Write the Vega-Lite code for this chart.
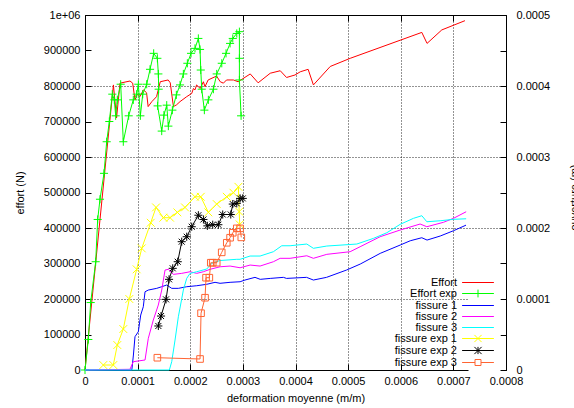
{
  "$schema": "https://vega.github.io/schema/vega-lite/v6.json",
  "width": 421,
  "height": 355,
  "autosize": {"type": "none"},
  "padding": {"left": 85, "top": 15, "right": 68, "bottom": 38},
  "background": "white",
  "config": {
    "font": "Liberation Sans",
    "view": {"stroke": "black", "strokeWidth": 1},
    "axis": {
      "labelFont": "Liberation Sans",
      "labelFontSize": 11,
      "labelColor": "black",
      "labelFlush": false,
      "labelOverlap": false,
      "titleFont": "Liberation Sans",
      "titleFontSize": 11,
      "titleFontWeight": "normal",
      "titleColor": "black",
      "tickColor": "black",
      "domain": false
    },
    "line": {"strokeWidth": 1}
  },
  "datasets": {
    "eff": [
      {"series": "Effort", "s": 0, "e": 0},
      {"series": "Effort", "s": 0.0000540, "e": 803000},
      {"series": "Effort", "s": 0.0000600, "e": 710000},
      {"series": "Effort", "s": 0.0000665, "e": 808000},
      {"series": "Effort", "s": 0.0000855, "e": 814000},
      {"series": "Effort", "s": 0.0000906, "e": 808000},
      {"series": "Effort", "s": 0.0000950, "e": 761000},
      {"series": "Effort", "s": 0.0000995, "e": 777000},
      {"series": "Effort", "s": 0.0001045, "e": 770000},
      {"series": "Effort", "s": 0.0001110, "e": 789000},
      {"series": "Effort", "s": 0.0001170, "e": 781000},
      {"series": "Effort", "s": 0.0001200, "e": 742000},
      {"series": "Effort", "s": 0.0001270, "e": 756000},
      {"series": "Effort", "s": 0.0001360, "e": 770000},
      {"series": "Effort", "s": 0.0001430, "e": 812000},
      {"series": "Effort", "s": 0.0001580, "e": 817000},
      {"series": "Effort", "s": 0.0001620, "e": 809000},
      {"series": "Effort", "s": 0.0001680, "e": 742000},
      {"series": "Effort", "s": 0.0001740, "e": 747000},
      {"series": "Effort", "s": 0.0001806, "e": 756000},
      {"series": "Effort", "s": 0.0001933, "e": 770000},
      {"series": "Effort", "s": 0.0002028, "e": 779000},
      {"series": "Effort", "s": 0.0002060, "e": 793000},
      {"series": "Effort", "s": 0.0002090, "e": 789000},
      {"series": "Effort", "s": 0.0002120, "e": 803000},
      {"series": "Effort", "s": 0.0002190, "e": 793000},
      {"series": "Effort", "s": 0.0002250, "e": 812000},
      {"series": "Effort", "s": 0.0002280, "e": 798000},
      {"series": "Effort", "s": 0.0002340, "e": 817000},
      {"series": "Effort", "s": 0.0002500, "e": 828000},
      {"series": "Effort", "s": 0.0002570, "e": 812000},
      {"series": "Effort", "s": 0.0002630, "e": 808000},
      {"series": "Effort", "s": 0.0002690, "e": 817000},
      {"series": "Effort", "s": 0.0002820, "e": 817000},
      {"series": "Effort", "s": 0.0002910, "e": 812000},
      {"series": "Effort", "s": 0.0003140, "e": 834000},
      {"series": "Effort", "s": 0.0003290, "e": 809000},
      {"series": "Effort", "s": 0.0003520, "e": 836000},
      {"series": "Effort", "s": 0.0003710, "e": 843000},
      {"series": "Effort", "s": 0.0003830, "e": 824000},
      {"series": "Effort", "s": 0.0003990, "e": 831000},
      {"series": "Effort", "s": 0.0004090, "e": 840000},
      {"series": "Effort", "s": 0.0004240, "e": 847000},
      {"series": "Effort", "s": 0.0004340, "e": 803000},
      {"series": "Effort", "s": 0.0004660, "e": 855000},
      {"series": "Effort", "s": 0.0005040, "e": 878000},
      {"series": "Effort", "s": 0.0006400, "e": 951000},
      {"series": "Effort", "s": 0.0006500, "e": 920000},
      {"series": "Effort", "s": 0.0006780, "e": 958000},
      {"series": "Effort", "s": 0.0007220, "e": 984000},
      {"series": "Effort exp", "s": 0, "e": 0},
      {"series": "Effort exp", "s": 0.0000063, "e": 86000},
      {"series": "Effort exp", "s": 0.0000108, "e": 190000},
      {"series": "Effort exp", "s": 0.0000203, "e": 305000},
      {"series": "Effort exp", "s": 0.0000241, "e": 424000},
      {"series": "Effort exp", "s": 0.0000285, "e": 481000},
      {"series": "Effort exp", "s": 0.0000361, "e": 554000},
      {"series": "Effort exp", "s": 0.0000412, "e": 643000},
      {"series": "Effort exp", "s": 0.0000462, "e": 700000},
      {"series": "Effort exp", "s": 0.0000519, "e": 777000},
      {"series": "Effort exp", "s": 0.0000557, "e": 761000},
      {"series": "Effort exp", "s": 0.0000583, "e": 716000},
      {"series": "Effort exp", "s": 0.0000614, "e": 761000},
      {"series": "Effort exp", "s": 0.0000678, "e": 805000},
      {"series": "Effort exp", "s": 0.0000728, "e": 643000},
      {"series": "Effort exp", "s": 0.0000830, "e": 716000},
      {"series": "Effort exp", "s": 0.0000918, "e": 761000},
      {"series": "Effort exp", "s": 0.0000982, "e": 777000},
      {"series": "Effort exp", "s": 0.0001014, "e": 805000},
      {"series": "Effort exp", "s": 0.0001052, "e": 716000},
      {"series": "Effort exp", "s": 0.0001097, "e": 777000},
      {"series": "Effort exp", "s": 0.0001173, "e": 805000},
      {"series": "Effort exp", "s": 0.0001236, "e": 847000},
      {"series": "Effort exp", "s": 0.0001305, "e": 892000},
      {"series": "Effort exp", "s": 0.0001375, "e": 878000},
      {"series": "Effort exp", "s": 0.0001394, "e": 834000},
      {"series": "Effort exp", "s": 0.0001400, "e": 791000},
      {"series": "Effort exp", "s": 0.0001380, "e": 744000},
      {"series": "Effort exp", "s": 0.0001458, "e": 673000},
      {"series": "Effort exp", "s": 0.0001500, "e": 718000},
      {"series": "Effort exp", "s": 0.0001553, "e": 746000},
      {"series": "Effort exp", "s": 0.0001584, "e": 687000},
      {"series": "Effort exp", "s": 0.0001660, "e": 732000},
      {"series": "Effort exp", "s": 0.0001736, "e": 775000},
      {"series": "Effort exp", "s": 0.0001806, "e": 803000},
      {"series": "Effort exp", "s": 0.0001869, "e": 834000},
      {"series": "Effort exp", "s": 0.0001945, "e": 864000},
      {"series": "Effort exp", "s": 0.0002015, "e": 892000},
      {"series": "Effort exp", "s": 0.0002090, "e": 906000},
      {"series": "Effort exp", "s": 0.0002154, "e": 934000},
      {"series": "Effort exp", "s": 0.0002186, "e": 903000},
      {"series": "Effort exp", "s": 0.0002200, "e": 845000},
      {"series": "Effort exp", "s": 0.0002218, "e": 791000},
      {"series": "Effort exp", "s": 0.0002268, "e": 732000},
      {"series": "Effort exp", "s": 0.0002344, "e": 761000},
      {"series": "Effort exp", "s": 0.0002440, "e": 791000},
      {"series": "Effort exp", "s": 0.0002503, "e": 834000},
      {"series": "Effort exp", "s": 0.0002599, "e": 864000},
      {"series": "Effort exp", "s": 0.0002680, "e": 892000},
      {"series": "Effort exp", "s": 0.0002757, "e": 920000},
      {"series": "Effort exp", "s": 0.0002808, "e": 934000},
      {"series": "Effort exp", "s": 0.0002884, "e": 948000},
      {"series": "Effort exp", "s": 0.0002934, "e": 953000},
      {"series": "Effort exp", "s": 0.0002934, "e": 878000},
      {"series": "Effort exp", "s": 0.0002934, "e": 817000},
      {"series": "Effort exp", "s": 0.0002966, "e": 716000}
    ],
    "fis": [
      {"series": "fissure 1", "s": 0, "o": 0},
      {"series": "fissure 1", "s": 0.0000890, "o": 0},
      {"series": "fissure 1", "s": 0.0000920, "o": 0.0000211},
      {"series": "fissure 1", "s": 0.0000950, "o": 0.0000469},
      {"series": "fissure 1", "s": 0.0001013, "o": 0.0000539},
      {"series": "fissure 1", "s": 0.0001059, "o": 0.0000774},
      {"series": "fissure 1", "s": 0.0001108, "o": 0.0000891},
      {"series": "fissure 1", "s": 0.0001141, "o": 0.0001102},
      {"series": "fissure 1", "s": 0.0001203, "o": 0.0001126},
      {"series": "fissure 1", "s": 0.0001363, "o": 0.0001150},
      {"series": "fissure 1", "s": 0.0001458, "o": 0.0001173},
      {"series": "fissure 1", "s": 0.0001553, "o": 0.0001197},
      {"series": "fissure 1", "s": 0.0001648, "o": 0.0001150},
      {"series": "fissure 1", "s": 0.0001774, "o": 0.0001150},
      {"series": "fissure 1", "s": 0.0001933, "o": 0.0001173},
      {"series": "fissure 1", "s": 0.0002123, "o": 0.0001187},
      {"series": "fissure 1", "s": 0.0002313, "o": 0.0001207},
      {"series": "fissure 1", "s": 0.0002471, "o": 0.0001235},
      {"series": "fissure 1", "s": 0.0002566, "o": 0.0001221},
      {"series": "fissure 1", "s": 0.0002757, "o": 0.0001235},
      {"series": "fissure 1", "s": 0.0002947, "o": 0.0001243},
      {"series": "fissure 1", "s": 0.0003040, "o": 0.0001267},
      {"series": "fissure 1", "s": 0.0003230, "o": 0.0001305},
      {"series": "fissure 1", "s": 0.0003330, "o": 0.0001277},
      {"series": "fissure 1", "s": 0.0003520, "o": 0.0001290},
      {"series": "fissure 1", "s": 0.0003770, "o": 0.0001305},
      {"series": "fissure 1", "s": 0.0003830, "o": 0.0001290},
      {"series": "fissure 1", "s": 0.0004210, "o": 0.0001305},
      {"series": "fissure 1", "s": 0.0004340, "o": 0.0001267},
      {"series": "fissure 1", "s": 0.0004590, "o": 0.0001305},
      {"series": "fissure 1", "s": 0.0004970, "o": 0.0001408},
      {"series": "fissure 1", "s": 0.0005230, "o": 0.0001492},
      {"series": "fissure 1", "s": 0.0005610, "o": 0.0001643},
      {"series": "fissure 1", "s": 0.0005990, "o": 0.0001760},
      {"series": "fissure 1", "s": 0.0006180, "o": 0.0001820},
      {"series": "fissure 1", "s": 0.0006400, "o": 0.0001863},
      {"series": "fissure 1", "s": 0.0006500, "o": 0.0001830},
      {"series": "fissure 1", "s": 0.0006750, "o": 0.0001887},
      {"series": "fissure 1", "s": 0.0007000, "o": 0.0001961},
      {"series": "fissure 1", "s": 0.0007240, "o": 0.0002040},
      {"series": "fissure 2", "s": 0, "o": 0},
      {"series": "fissure 2", "s": 0.0000855, "o": 0.0000010},
      {"series": "fissure 2", "s": 0.0000918, "o": 0.0000117},
      {"series": "fissure 2", "s": 0.0001141, "o": 0.0000141},
      {"series": "fissure 2", "s": 0.0001203, "o": 0.0000446},
      {"series": "fissure 2", "s": 0.0001298, "o": 0.0000704},
      {"series": "fissure 2", "s": 0.0001393, "o": 0.0000915},
      {"series": "fissure 2", "s": 0.0001458, "o": 0.0001126},
      {"series": "fissure 2", "s": 0.0001521, "o": 0.0001408},
      {"series": "fissure 2", "s": 0.0001584, "o": 0.0001418},
      {"series": "fissure 2", "s": 0.0001679, "o": 0.0001347},
      {"series": "fissure 2", "s": 0.0001838, "o": 0.0001361},
      {"series": "fissure 2", "s": 0.0001996, "o": 0.0001384},
      {"series": "fissure 2", "s": 0.0002123, "o": 0.0001361},
      {"series": "fissure 2", "s": 0.0002249, "o": 0.0001384},
      {"series": "fissure 2", "s": 0.0002376, "o": 0.0001418},
      {"series": "fissure 2", "s": 0.0002566, "o": 0.0001454},
      {"series": "fissure 2", "s": 0.0002757, "o": 0.0001464},
      {"series": "fissure 2", "s": 0.0002947, "o": 0.0001440},
      {"series": "fissure 2", "s": 0.0003137, "o": 0.0001478},
      {"series": "fissure 2", "s": 0.0003327, "o": 0.0001464},
      {"series": "fissure 2", "s": 0.0003580, "o": 0.0001525},
      {"series": "fissure 2", "s": 0.0003707, "o": 0.0001573},
      {"series": "fissure 2", "s": 0.0003897, "o": 0.0001573},
      {"series": "fissure 2", "s": 0.0004215, "o": 0.0001609},
      {"series": "fissure 2", "s": 0.0004340, "o": 0.0001573},
      {"series": "fissure 2", "s": 0.0004595, "o": 0.0001629},
      {"series": "fissure 2", "s": 0.0005038, "o": 0.0001666},
      {"series": "fissure 2", "s": 0.0005228, "o": 0.0001736},
      {"series": "fissure 2", "s": 0.0005608, "o": 0.0001877},
      {"series": "fissure 2", "s": 0.0005988, "o": 0.0001971},
      {"series": "fissure 2", "s": 0.0006368, "o": 0.0002056},
      {"series": "fissure 2", "s": 0.0006496, "o": 0.0002018},
      {"series": "fissure 2", "s": 0.0006811, "o": 0.0002080},
      {"series": "fissure 2", "s": 0.0007001, "o": 0.0002136},
      {"series": "fissure 2", "s": 0.0007243, "o": 0.0002229},
      {"series": "fissure 3", "s": 0, "o": 0},
      {"series": "fissure 3", "s": 0.0001603, "o": 0},
      {"series": "fissure 3", "s": 0.0001648, "o": 0.0000117},
      {"series": "fissure 3", "s": 0.0001711, "o": 0.0000422},
      {"series": "fissure 3", "s": 0.0001774, "o": 0.0000750},
      {"series": "fissure 3", "s": 0.0001869, "o": 0.0001126},
      {"series": "fissure 3", "s": 0.0001933, "o": 0.0001291},
      {"series": "fissure 3", "s": 0.0001996, "o": 0.0001361},
      {"series": "fissure 3", "s": 0.0002123, "o": 0.0001384},
      {"series": "fissure 3", "s": 0.0002313, "o": 0.0001422},
      {"series": "fissure 3", "s": 0.0002409, "o": 0.0001502},
      {"series": "fissure 3", "s": 0.0002566, "o": 0.0001542},
      {"series": "fissure 3", "s": 0.0002884, "o": 0.0001559},
      {"series": "fissure 3", "s": 0.0002947, "o": 0.0001559},
      {"series": "fissure 3", "s": 0.0003137, "o": 0.0001605},
      {"series": "fissure 3", "s": 0.0003327, "o": 0.0001605},
      {"series": "fissure 3", "s": 0.0003580, "o": 0.0001666},
      {"series": "fissure 3", "s": 0.0003739, "o": 0.0001750},
      {"series": "fissure 3", "s": 0.0003897, "o": 0.0001750},
      {"series": "fissure 3", "s": 0.0004215, "o": 0.0001774},
      {"series": "fissure 3", "s": 0.0004340, "o": 0.0001714},
      {"series": "fissure 3", "s": 0.0004595, "o": 0.0001746},
      {"series": "fissure 3", "s": 0.0005165, "o": 0.0001774},
      {"series": "fissure 3", "s": 0.0005481, "o": 0.0001854},
      {"series": "fissure 3", "s": 0.0005735, "o": 0.0001933},
      {"series": "fissure 3", "s": 0.0005988, "o": 0.0002051},
      {"series": "fissure 3", "s": 0.0006241, "o": 0.0002136},
      {"series": "fissure 3", "s": 0.0006401, "o": 0.0002173},
      {"series": "fissure 3", "s": 0.0006496, "o": 0.0002088},
      {"series": "fissure 3", "s": 0.0006749, "o": 0.0002102},
      {"series": "fissure 3", "s": 0.0007001, "o": 0.0002122},
      {"series": "fissure 3", "s": 0.0007243, "o": 0.0002130},
      {"series": "fissure exp 1", "s": 0.0000348, "o": 0.0000070},
      {"series": "fissure exp 1", "s": 0.0000538, "o": 0.0000070},
      {"series": "fissure exp 1", "s": 0.0000614, "o": 0.0000352},
      {"series": "fissure exp 1", "s": 0.0000728, "o": 0.0000577},
      {"series": "fissure exp 1", "s": 0.0000842, "o": 0.0001000},
      {"series": "fissure exp 1", "s": 0.0000982, "o": 0.0001418},
      {"series": "fissure exp 1", "s": 0.0001078, "o": 0.0001713},
      {"series": "fissure exp 1", "s": 0.0001249, "o": 0.0002074},
      {"series": "fissure exp 1", "s": 0.0001350, "o": 0.0002290},
      {"series": "fissure exp 1", "s": 0.0001489, "o": 0.0002145},
      {"series": "fissure exp 1", "s": 0.0001616, "o": 0.0002145},
      {"series": "fissure exp 1", "s": 0.0001755, "o": 0.0002220},
      {"series": "fissure exp 1", "s": 0.0001900, "o": 0.0002290},
      {"series": "fissure exp 1", "s": 0.0002090, "o": 0.0002440},
      {"series": "fissure exp 1", "s": 0.0002200, "o": 0.0002440},
      {"series": "fissure exp 1", "s": 0.0002344, "o": 0.0002220},
      {"series": "fissure exp 1", "s": 0.0002503, "o": 0.0002337},
      {"series": "fissure exp 1", "s": 0.0002694, "o": 0.0002440},
      {"series": "fissure exp 1", "s": 0.0002820, "o": 0.0002497},
      {"series": "fissure exp 1", "s": 0.0002915, "o": 0.0002580},
      {"series": "fissure exp 1", "s": 0.0002930, "o": 0.0002230},
      {"series": "fissure exp 1", "s": 0.0002940, "o": 0.0002050},
      {"series": "fissure exp 2", "s": 0.0001394, "o": 0.0000620},
      {"series": "fissure exp 2", "s": 0.0001445, "o": 0.0000760},
      {"series": "fissure exp 2", "s": 0.0001540, "o": 0.0000995},
      {"series": "fissure exp 2", "s": 0.0001597, "o": 0.0001277},
      {"series": "fissure exp 2", "s": 0.0001667, "o": 0.0001432},
      {"series": "fissure exp 2", "s": 0.0001762, "o": 0.0001525},
      {"series": "fissure exp 2", "s": 0.0001838, "o": 0.0001807},
      {"series": "fissure exp 2", "s": 0.0001933, "o": 0.0001877},
      {"series": "fissure exp 2", "s": 0.0002028, "o": 0.0002018},
      {"series": "fissure exp 2", "s": 0.0002154, "o": 0.0002180},
      {"series": "fissure exp 2", "s": 0.0002250, "o": 0.0002120},
      {"series": "fissure exp 2", "s": 0.0002325, "o": 0.0002030},
      {"series": "fissure exp 2", "s": 0.0002427, "o": 0.0002046},
      {"series": "fissure exp 2", "s": 0.0002534, "o": 0.0002046},
      {"series": "fissure exp 2", "s": 0.0002617, "o": 0.0002190},
      {"series": "fissure exp 2", "s": 0.0002770, "o": 0.0002190},
      {"series": "fissure exp 2", "s": 0.0002808, "o": 0.0002337},
      {"series": "fissure exp 2", "s": 0.0002884, "o": 0.0002347},
      {"series": "fissure exp 2", "s": 0.0002947, "o": 0.0002417},
      {"series": "fissure exp 2", "s": 0.0002998, "o": 0.0002417},
      {"series": "fissure exp 3", "s": 0.0001375, "o": 0.0000173},
      {"series": "fissure exp 3", "s": 0.0002186, "o": 0.0000155},
      {"series": "fissure exp 3", "s": 0.0002205, "o": 0.0000800},
      {"series": "fissure exp 3", "s": 0.0002281, "o": 0.0001018},
      {"series": "fissure exp 3", "s": 0.0002300, "o": 0.0001300},
      {"series": "fissure exp 3", "s": 0.0002363, "o": 0.0001300},
      {"series": "fissure exp 3", "s": 0.0002390, "o": 0.0001511},
      {"series": "fissure exp 3", "s": 0.0002427, "o": 0.0001511},
      {"series": "fissure exp 3", "s": 0.0002503, "o": 0.0001511},
      {"series": "fissure exp 3", "s": 0.0002598, "o": 0.0001657},
      {"series": "fissure exp 3", "s": 0.0002694, "o": 0.0001792},
      {"series": "fissure exp 3", "s": 0.0002757, "o": 0.0001863},
      {"series": "fissure exp 3", "s": 0.0002808, "o": 0.0001933},
      {"series": "fissure exp 3", "s": 0.0002884, "o": 0.0001995},
      {"series": "fissure exp 3", "s": 0.0002947, "o": 0.0001995},
      {"series": "fissure exp 3", "s": 0.0002970, "o": 0.0001868}
    ]
  },
  "resolve": {"scale": {"x": "independent", "y": "independent"}},
  "layer": [
    {
      "data": {"name": "eff"},
      "encoding": {
        "x": {
          "field": "s", "type": "quantitative",
          "scale": {"domain": [0, 0.0008], "nice": false, "zero": false},
          "axis": {
            "orient": "bottom",
            "values": [0, 0.0001, 0.0002, 0.0003, 0.0004, 0.0005, 0.0006, 0.0007, 0.0008],
            "labelExpr": "datum.value == 0 ? '0' : format(datum.value, '.4f')",
            "title": "deformation moyenne (m/m)",
            "titleX": 210.5, "titleY": 28, "titleBaseline": "middle",
            "tickSize": -6, "labelPadding": 11,
            "grid": true, "gridDash": [1, 2], "gridColor": "black", "gridOpacity": 0.85
          }
        },
        "y": {
          "field": "e", "type": "quantitative",
          "scale": {"domain": [0, 1000000], "nice": false},
          "axis": {
            "orient": "left",
            "values": [0, 100000, 200000, 300000, 400000, 500000, 600000, 700000, 800000, 900000, 1000000],
            "labelExpr": "datum.value == 1000000 ? '1e+06' : format(datum.value, 'd')",
            "title": "effort (N)",
            "titleX": -65, "titleY": 177.5, "titleBaseline": "middle", "titleAngle": -90,
            "tickSize": -6, "labelPadding": 11,
            "grid": false
          }
        },
        "color": {
          "field": "series", "type": "nominal",
          "scale": {
            "domain": ["Effort", "Effort exp", "fissure 1", "fissure 2", "fissure 3", "fissure exp 1", "fissure exp 2", "fissure exp 3"],
            "range": ["#ff0000", "#00ff00", "#0000ff", "#ff00ff", "#00ffff", "#ffff00", "#000000", "#ff6432"]
          },
          "legend": {
            "orient": "none", "legendX": 383.5, "legendY": 258,
            "title": null,
            "symbolSize": 36, "symbolStrokeWidth": 1,
            "symbolType": {"expr": "datum.value == 'Effort exp' ? 'M-5.3,0H5.3M0,-1.3V1.3' : datum.value == 'fissure exp 1' ? 'M-5.3,0H5.3M-1.2,-1.2L1.2,1.2M-1.2,1.2L1.2,-1.2' : datum.value == 'fissure exp 2' ? 'M-5.3,0H5.3M0,-1.2V1.2M-1.2,-1.2L1.2,1.2M-1.2,1.2L1.2,-1.2' : datum.value == 'fissure exp 3' ? 'M-5.3,0H-1M1,0H5.3M-1,-1H1V1H-1Z' : 'M-5.3,0H5.3'"},
            "symbolFillColor": "transparent",
            "labelFont": "Liberation Sans", "labelFontSize": 11, "labelColor": "black",
            "labelAlign": "right", "labelOffset": -26.5, "rowPadding": -1.6,
            "padding": 4, "fillColor": "white"
          }
        }
      },
      "layer": [
        {"mark": {"type": "line", "strokeWidth": 1}, "encoding": {"order": {"value": null}}},
        {
          "transform": [{"filter": "datum.series == 'Effort exp'"}],
          "mark": {"type": "point", "filled": false, "strokeWidth": 1, "size": 36, "shape": "M-1.35,0H1.35M0,-1.35V1.35", "opacity": 1}
        }
      ]
    },
    {
      "data": {"name": "fis"},
      "encoding": {
        "x": {
          "field": "s", "type": "quantitative",
          "scale": {"domain": [0, 0.0008], "nice": false, "zero": false},
          "axis": {
            "orient": "top",
            "values": [0.0001, 0.0002, 0.0003, 0.0004, 0.0005, 0.0006, 0.0007],
            "labels": false, "title": null, "tickSize": -6, "grid": false
          }
        },
        "y": {
          "field": "o", "type": "quantitative",
          "scale": {"domain": [0, 0.0005], "nice": false},
          "axis": {
            "orient": "right",
            "values": [0, 0.00005, 0.0001, 0.00015, 0.0002, 0.00025, 0.0003, 0.00035, 0.0004, 0.00045, 0.0005],
            "labelExpr": "round(datum.value * 20000) % 2 == 0 ? (datum.value == 0 ? '0' : format(datum.value, '.4f')) : ''",
            "title": "ouverture (m)",
            "titleX": 62, "titleY": 182, "titleAngle": -90, "titleBaseline": "top",
            "tickSize": -6, "labelPadding": 16,
            "grid": true, "gridDash": [1, 2], "gridColor": "black",
            "gridOpacity": {"condition": {"test": "round(datum.value * 20000) % 2 == 0", "value": 0.85}, "value": 0}
          }
        },
        "color": {"field": "series", "type": "nominal"}
      },
      "layer": [
        {"mark": {"type": "line", "strokeWidth": 1}, "encoding": {"order": {"value": null}}},
        {
          "transform": [{"filter": "indexof(datum.series, 'exp') >= 0"}],
          "mark": {"type": "point", "filled": false, "strokeWidth": 1, "size": 36, "opacity": 1},
          "encoding": {
            "shape": {
              "field": "series", "type": "nominal",
              "scale": {
                "domain": ["fissure exp 1", "fissure exp 2", "fissure exp 3"],
                "range": ["M-1.3,-1.3L1.3,1.3M-1.3,1.3L1.3,-1.3", "M-1.35,0H1.35M0,-1.35V1.35M-1,-1L1,1M-1,1L1,-1", "M-1.1,-1.1H1.1V1.1H-1.1Z"]
              },
              "legend": null
            }
          }
        }
      ]
    }
  ]
}
